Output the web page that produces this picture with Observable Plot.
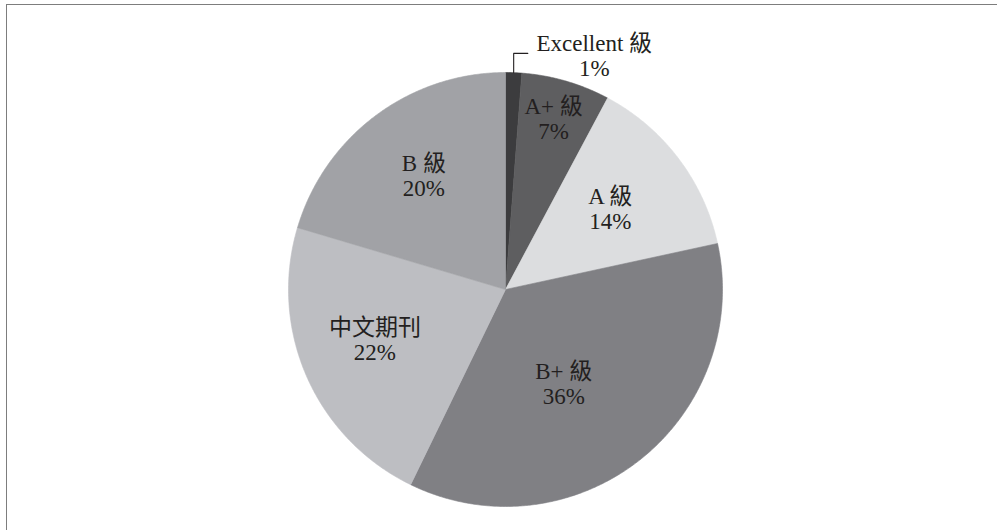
<!DOCTYPE html>
<html>
<head>
<meta charset="utf-8">
<script src="https://cdn.jsdelivr.net/npm/d3@7"></script>
<script src="https://cdn.jsdelivr.net/npm/@observablehq/plot@0.6"></script>
<style>
  html, body { margin: 0; padding: 0; background: #fff; }
  #wrap { position: relative; width: 997px; height: 530px; overflow: hidden; }
  #frame { position: absolute; left: 6px; top: 4px; width: 1200px; height: 800px;
           border-top: 1.5px solid #7d7d7d; border-left: 1.5px solid #7d7d7d; pointer-events: none; }
</style>
</head>
<body>
<div id="wrap"><div id="chart"></div><div id="frame"></div></div>
<script>
// ---- data (clockwise from 12 o'clock) ----
const categories = ["Excellent 級", "A+ 級", "A 級", "B+ 級", "中文期刊", "B 級"];
const values     = [1.2, 6.6, 13.8, 35.6, 22.4, 20.4];
const pctLabels  = ["1%", "7%", "14%", "36%", "22%", "20%"];

// ---- styles / layout (kept apart from data) ----
const colors = ["#3c3c3e", "#5e5e60", "#dcdddf", "#808084", "#bdbec2", "#a1a2a6"];
const labelRadius = [1.154, 0.82, 0.61, 0.51, 0.645, 0.646];   // fraction of pie radius
const labelAngleShift = [18.6, -0.5, -0.6, 6.4, 2.7, 1.1];      // degrees
const cx = 505, cy = 289, R = 217;
const font = "'Liberation Serif','Noto Sans CJK TC',serif";

const total = d3.sum(values);
let acc = 0;
const slices = values.map((v, i) => {
  const a0 = acc / total * 360;
  acc += v;
  const a1 = acc / total * 360;
  return {name: categories[i], a0, a1, mid: (a0 + a1) / 2, color: colors[i], label: categories[i] + "\n" + pctLabels[i], i};
});
const rad = d => d * Math.PI / 180;

function slicePoints(s) {
  const pts = [{x: 0, y: 0}];
  const n = Math.max(2, Math.ceil((s.a1 - s.a0) / 0.4));
  for (let k = 0; k <= n; k++) {
    const a = rad(s.a0 + (s.a1 - s.a0) * k / n);
    pts.push({x: Math.sin(a), y: Math.cos(a)});
  }
  pts.push({x: 0, y: 0});
  return pts;
}

const sliceMarks = slices.map(s =>
  Plot.line(slicePoints(s), {x: "x", y: "y", fill: s.color, stroke: s.color, strokeWidth: 0.6, curve: "linear"})
);

const labels = slices.map(s => {
  const a = rad(s.mid + labelAngleShift[s.i]);
  return {x: labelRadius[s.i] * Math.sin(a), y: labelRadius[s.i] * Math.cos(a), text: s.label};
});

// leader line for the tiny "Excellent" slice
const ex = slices[0];
const exA = rad(ex.mid);
const leader = [
  {x: Math.sin(exA), y: Math.cos(exA)},
  {x: Math.sin(exA), y: 1.088},
  {x: Math.sin(exA) + 0.065, y: 1.088}
];

const chart = Plot.plot({
  width: 997,
  height: 530,
  margin: 0,
  x: {domain: [-1, 1], range: [cx - R, cx + R], axis: null},
  y: {domain: [-1, 1], range: [cy + R, cy - R], axis: null},
  style: {background: "transparent", fontFamily: font},
  marks: [
    ...sliceMarks,
    Plot.line(leader, {x: "x", y: "y", stroke: "#231f20", strokeWidth: 1.1}),
    Plot.text(labels, {x: "x", y: "y", text: "text", fill: "#231f20", fontSize: 23,
                       lineHeight: 1.08, textAnchor: "middle", lineAnchor: "middle", fontFamily: font})
  ]
});
document.getElementById("chart").appendChild(chart);
</script>
</body>
</html>
